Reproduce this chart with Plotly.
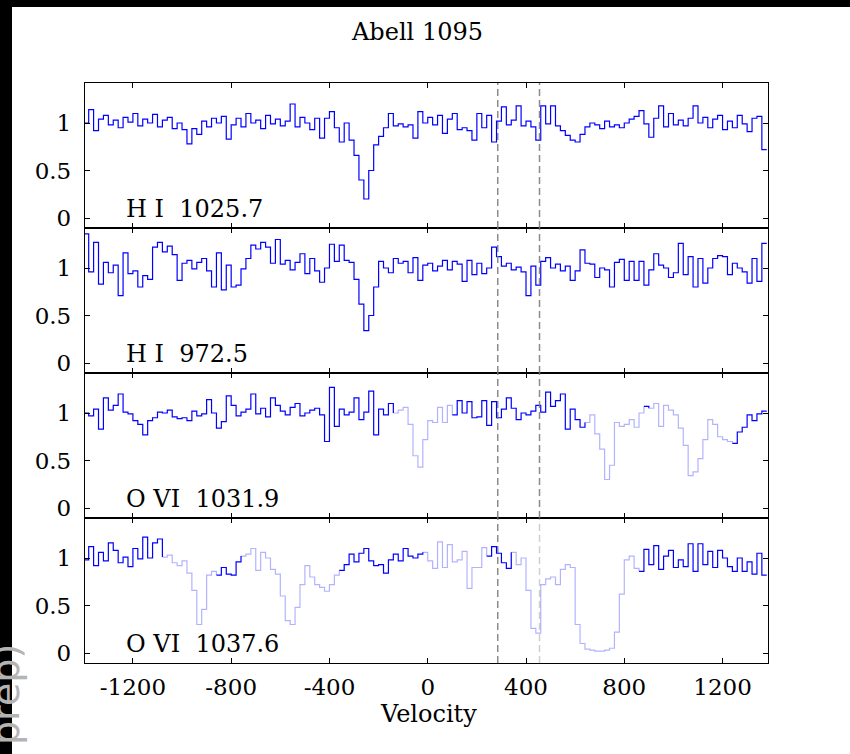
import plotly.graph_objects as go
from plotly.subplots import make_subplots

# ---------------- data ----------------
V_START = -1400          # left edge of first velocity bin (km/s)
BIN_WIDTH = 20           # velocity bin width (km/s)

PANEL_LABELS = ["H I\u00a0 1025.7", "H I\u00a0 972.5", "O VI\u00a0 1031.9", "O VI\u00a0 1037.6"]
TITLE = "Abell 1095"
X_TITLE = "Velocity"

X_TICKS = [-1200, -800, -400, 0, 400, 800, 1200]
X_TICK_TEXT = ["-1200", "-800", "-400", "0", "400", "800", "1200"]
Y_TICKS = [0, 0.5, 1]
Y_TICK_TEXT = ["0", "0.5", "1"]

DASHED_VELOCITIES = [285, 455]

FLUX_HI_1025 = [
    1.00, 1.14, 0.92, 1.04, 1.08, 0.98, 1.03, 0.95, 1.06, 1.01,
    1.10, 0.97, 1.04, 1.00, 1.09, 0.96, 1.03, 1.06, 0.94, 1.00,
    0.93, 0.78, 0.94, 0.88, 1.02, 0.96, 1.05, 1.00, 1.07, 0.83,
    0.98, 1.05, 0.96, 1.10, 1.00, 1.03, 0.94, 1.08, 0.99, 1.04,
    0.97, 1.02, 1.20, 0.96, 1.06, 1.00, 0.93, 1.05, 0.84, 1.05,
    1.12, 0.95, 0.80, 1.00, 0.82, 0.66, 0.40, 0.20, 0.50, 0.77,
    0.86, 0.95, 1.10, 0.97, 0.99, 0.96, 0.98, 0.84, 1.12, 1.00,
    1.06, 0.98, 1.08, 0.89, 1.04, 1.10, 0.93, 0.95, 0.92, 0.82,
    1.10, 0.95, 1.08, 0.80, 1.02, 1.17, 0.98, 1.03, 1.18, 0.97,
    1.02, 0.96, 0.82, 1.18, 0.99, 1.18, 0.97, 0.92, 0.87, 0.82,
    0.80, 0.88, 0.96, 1.00, 0.98, 0.94, 1.02, 0.96, 0.98, 0.95,
    1.00, 1.04, 1.07, 1.13, 0.99, 0.85, 1.05, 1.18, 0.96, 1.10,
    0.98, 1.03, 0.97, 1.05, 1.18, 1.00, 1.06, 0.95, 1.04, 1.08,
    0.93, 1.02, 0.95, 1.08, 0.99, 0.91, 1.05, 1.07, 0.72,
]

FLUX_HI_972 = [
    1.36, 0.96, 1.27, 0.83, 1.06, 0.95, 1.03, 0.71, 1.16, 0.94,
    0.97, 0.80, 0.92, 0.88, 1.22, 1.27, 1.17, 1.23, 1.14, 0.87,
    1.05, 1.08, 0.99, 1.06, 1.10, 0.97, 0.80, 1.16, 0.77, 1.03,
    0.80, 0.82, 0.99, 1.10, 1.24, 1.20, 1.27, 1.22, 1.05, 1.30,
    1.04, 1.08, 0.98, 1.06, 1.15, 0.94, 1.10, 0.97, 0.85, 1.00,
    1.25, 1.07, 1.24, 1.08, 1.06, 0.88, 0.62, 0.34, 0.50, 0.80,
    1.07, 1.00, 0.95, 1.10, 1.05, 1.07, 0.95, 1.11, 0.87, 1.03,
    1.05, 0.97, 1.02, 1.08, 0.98, 1.07, 1.04, 0.86, 1.08, 0.93,
    1.05, 0.94, 1.00, 1.22, 1.12, 1.02, 1.05, 0.98, 1.01, 0.96,
    0.71, 1.02, 0.82, 1.07, 1.11, 1.00, 1.04, 0.97, 1.02, 0.87,
    0.97, 1.19, 1.05, 1.04, 0.90, 1.00, 0.98, 0.80, 1.06, 1.09,
    0.87, 1.07, 0.87, 1.07, 0.82, 0.98, 1.15, 1.03, 1.00, 0.90,
    0.95, 1.26, 0.93, 1.12, 0.80, 1.10, 0.84, 1.00, 1.10, 1.13,
    1.12, 0.93, 1.05, 1.00, 0.96, 0.84, 1.10, 0.86, 1.26,
]

FLUX_OVI_1031 = [
    1.00, 0.97, 1.04, 0.83, 1.16, 1.03, 1.08, 1.20, 1.01, 0.99,
    0.92, 0.88, 0.77, 0.92, 0.95, 1.01, 1.00, 1.03, 0.96, 0.94,
    0.95, 0.92, 1.02, 0.97, 0.99, 1.14, 1.00, 0.84, 0.91, 1.18,
    1.08, 0.97, 1.01, 1.04, 1.20, 0.99, 1.05, 0.96, 1.16, 1.08,
    1.02, 0.98, 1.06, 1.10, 0.97, 1.00, 1.03, 1.05, 0.98, 0.70,
    1.27, 0.86, 1.04, 0.98, 1.01, 1.16, 0.93, 1.01, 1.23, 0.77,
    1.04, 0.98, 1.10, 1.00, 1.03, 1.06, 0.88, 0.55, 0.43, 0.72,
    0.92, 0.90, 1.06, 0.90, 1.08, 0.98, 1.13, 1.00, 1.12, 0.95,
    0.96, 1.13, 0.87, 1.12, 0.95, 1.04, 1.16, 1.05, 0.93, 1.00,
    0.98, 1.02, 1.08, 1.01, 1.22, 1.07, 1.13, 1.20, 0.83, 1.04,
    0.93, 0.85, 0.90, 0.98, 0.78, 0.62, 0.30, 0.45, 0.90, 0.86,
    0.88, 0.93, 0.85, 1.00, 1.07, 1.05, 1.10, 0.86, 1.08, 1.03,
    0.98, 0.84, 0.66, 0.34, 0.38, 0.52, 0.72, 0.93, 0.88, 0.75,
    0.72, 0.70, 0.68, 0.80, 0.85, 0.98, 0.92, 0.99, 1.02,
]

FLUX_OVI_1037 = [
    0.98, 1.12, 0.92, 1.06, 0.97, 1.16, 1.08, 0.95, 1.01, 0.91,
    1.10, 0.99, 1.22, 1.00, 1.16, 1.20, 1.01, 1.03, 0.95, 0.92,
    0.97, 0.84, 0.66, 0.30, 0.46, 0.82, 0.86, 0.82, 0.90, 0.83,
    0.82, 0.96, 1.02, 1.04, 1.10, 0.87, 1.06, 1.00, 0.88, 0.83,
    0.60, 0.34, 0.30, 0.48, 0.72, 0.92, 0.80, 0.72, 0.69, 0.65,
    0.72, 0.82, 0.87, 0.93, 1.04, 0.96, 1.05, 1.10, 0.97, 0.92,
    0.93, 0.84, 0.98, 1.04, 0.97, 1.10, 1.02, 1.00, 1.04, 1.06,
    0.97, 0.89, 1.17, 0.90, 1.14, 0.96, 0.98, 1.07, 0.68, 0.90,
    0.90, 1.11, 1.02, 1.12, 1.05, 0.95, 0.89, 1.06, 0.93, 1.00,
    0.66, 0.26, 0.21, 0.72, 0.78, 0.80, 0.72, 0.88, 0.93, 0.90,
    0.30, 0.10, 0.04, 0.03, 0.02, 0.02, 0.03, 0.05, 0.22, 0.62,
    0.98, 1.02, 0.89, 0.86, 1.09, 0.93, 1.13, 0.88, 1.02, 1.08,
    0.90, 0.98, 0.91, 1.15, 0.86, 1.15, 0.93, 1.07, 0.90, 1.08,
    1.00, 0.91, 0.86, 1.00, 0.86, 0.96, 0.83, 1.05, 0.82,
]

# velocity windows drawn faded (blended with other absorption)
BLENDED_HI_1025 = []
BLENDED_HI_972 = []
BLENDED_OVI_1031 = [(-145, 105), (635, 880), (900, 1240)]
BLENDED_OVI_1037 = [(-1075, -855), (-755, -355), (-15, 245), (345, 865)]

PANELS = [
    (FLUX_HI_1025, BLENDED_HI_1025),
    (FLUX_HI_972, BLENDED_HI_972),
    (FLUX_OVI_1031, BLENDED_OVI_1031),
    (FLUX_OVI_1037, BLENDED_OVI_1037),
]
for vals, _ in PANELS:
    assert len(vals) == len(FLUX_HI_1025), len(vals)

# ---------------- styling ----------------
W, H = 850, 754
ML, MR, MT, MB = 85, 82, 83, 91
X_RANGE = [-1395, 1385]
Y_RANGE = [-0.105, 1.421]
DARK = "rgb(0,0,255)"
LIGHT = "rgba(0,0,255,0.3)"
SERIF = "DejaVu Serif"
PW = W - ML - MR
PH = H - MT - MB


def px_to_paper_x(px):
    return (px - ML) / PW


def px_to_paper_y(py):
    return (H - MB - py) / PH


def runs_for(values, ranges):
    n = len(values)
    edges = [V_START + BIN_WIDTH * i for i in range(n + 1)]
    centers = [V_START + BIN_WIDTH * (i + 0.5) for i in range(n)]
    light = [any(a <= c <= b for a, b in ranges) for c in centers]
    out = []
    s = 0
    for i in range(1, n + 1):
        if i == n or light[i] != light[s]:
            xs = edges[s:i + 1]
            ys = values[s:i] + [values[i] if i < n else values[i - 1]]
            out.append((xs, ys, light[s]))
            s = i
    return out


fig = make_subplots(rows=4, cols=1, shared_xaxes=True, vertical_spacing=0)

for r, (vals, ranges) in enumerate(PANELS, start=1):
    segs = runs_for(vals, ranges)
    for want_light in (True, False):
        for xs, ys, lt in segs:
            if lt != want_light:
                continue
            fig.add_trace(go.Scatter(
                x=xs, y=ys, mode="lines", line_shape="hv",
                line=dict(color=LIGHT if lt else DARK, width=1.2),
                showlegend=False, hoverinfo="skip"), row=r, col=1)

axis_common = dict(ticks="inside", ticklen=5, tickwidth=1, tickcolor="black",
                   showline=True, linecolor="black", linewidth=1.3,
                   mirror="allticks", showgrid=False, zeroline=False,
                   tickfont=dict(family=SERIF, size=23, color="black"))

for r in range(1, 5):
    fig.update_yaxes(row=r, col=1, range=Y_RANGE, tickvals=Y_TICKS,
                     ticktext=Y_TICK_TEXT, ticklabelstandoff=8, **axis_common)
    fig.update_xaxes(row=r, col=1, range=X_RANGE, tickvals=X_TICKS,
                     ticktext=X_TICK_TEXT, showticklabels=(r == 4),
                     ticklabelstandoff=3, **axis_common)

shapes = []
# white page area over the black frame
shapes.append(dict(type="rect", xref="paper", yref="paper", layer="below",
                   x0=px_to_paper_x(12), x1=px_to_paper_x(W + 20),
                   y0=px_to_paper_y(H + 20), y1=px_to_paper_y(7),
                   fillcolor="white", line=dict(width=0)))
for r in range(1, 5):
    yref = "y domain" if r == 1 else f"y{r} domain"
    xref = "x" if r == 1 else f"x{r}"
    for k, v in enumerate(DASHED_VELOCITIES):
        col = "rgba(120,120,120,0.85)"
        if r == 4 and k == 1:
            col = "rgba(120,120,120,0.35)"
        shapes.append(dict(type="line", xref=xref, yref=yref, x0=v, x1=v,
                           y0=0, y1=1, line=dict(color=col, width=1.5, dash="7px,4px")))

annotations = []
for r, lab in enumerate(PANEL_LABELS, start=1):
    annotations.append(dict(text=lab, xref="x" if r == 1 else f"x{r}",
                            yref="y" if r == 1 else f"y{r}",
                            x=-1237, y=0.09, xanchor="left", yanchor="middle",
                            showarrow=False,
                            font=dict(family=SERIF, size=24, color="black")))
annotations.append(dict(text=TITLE, xref="paper", yref="paper",
                        x=px_to_paper_x(416.5), y=px_to_paper_y(32),
                        xanchor="center", yanchor="middle", showarrow=False,
                        font=dict(family=SERIF, size=24, color="black")))
annotations.append(dict(text=X_TITLE, xref="paper", yref="paper",
                        x=px_to_paper_x(428), y=px_to_paper_y(714),
                        xanchor="center", yanchor="middle", showarrow=False,
                        font=dict(family=SERIF, size=24, color="black")))
annotations.append(dict(text="prep)", xref="paper", yref="paper",
                        x=px_to_paper_x(6), y=px_to_paper_y(695),
                        xanchor="center", yanchor="middle", showarrow=False,
                        textangle=-90,
                        font=dict(family="DejaVu Sans", size=38, color="#b4b4b4")))

fig.update_layout(width=W, height=H, autosize=False,
                  margin=dict(l=ML, r=MR, t=MT, b=MB, pad=0),
                  paper_bgcolor="black", plot_bgcolor="rgba(0,0,0,0)",
                  shapes=shapes, annotations=annotations, showlegend=False)

fig.write_html("out.html",
               config={"displayModeBar": False},
               post_script="document.body.style.margin='0';"
                           "document.body.style.overflow='hidden';")
